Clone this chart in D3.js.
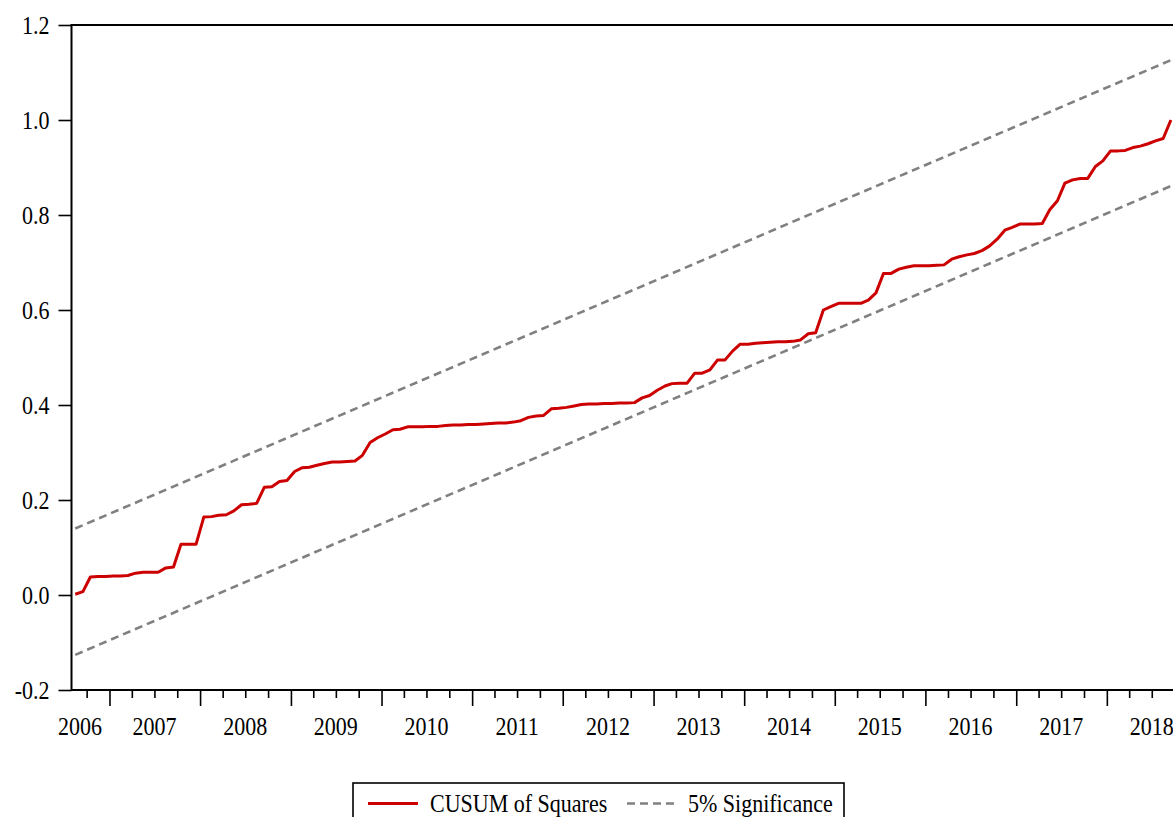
<!DOCTYPE html>
<html>
<head>
<meta charset="utf-8">
<script src="https://cdn.jsdelivr.net/npm/d3@7"></script>
<style>
  html, body { margin: 0; padding: 0; background: #fff; }
  svg { display: block; }
  text { font-family: "Liberation Serif", "Times New Roman", serif; fill: #000; }
</style>
</head>
<body>
<svg id="chart" width="1173" height="817"></svg>
<script>
// ---- data ----
const firstObs = "2006-08";          // first monthly observation
const axisStart = "2006-08-01";
const axisEnd = "2018-10-01";
const cusumSq = [
  0.0015, 0.007, 0.038, 0.039, 0.039, 0.040, 0.040, 0.041, 0.046, 0.048, 0.048, 0.048,
  0.057, 0.059, 0.107, 0.107, 0.107, 0.164, 0.165, 0.168, 0.169, 0.177, 0.190, 0.191,
  0.193, 0.227, 0.228, 0.239, 0.241, 0.260, 0.268, 0.269, 0.273, 0.277, 0.280, 0.280,
  0.281, 0.282, 0.294, 0.321, 0.331, 0.339, 0.348, 0.349, 0.354, 0.354, 0.354, 0.355,
  0.355, 0.357, 0.358, 0.358, 0.359, 0.359, 0.360, 0.361, 0.362, 0.362, 0.364, 0.367,
  0.374, 0.377, 0.378, 0.392, 0.393, 0.395, 0.398, 0.401, 0.402, 0.402, 0.403, 0.403,
  0.404, 0.404, 0.405, 0.415, 0.420, 0.431, 0.440, 0.445, 0.446, 0.446, 0.467, 0.467,
  0.474, 0.495, 0.495, 0.514, 0.528, 0.528, 0.530, 0.531, 0.532, 0.533, 0.533, 0.534,
  0.537, 0.550, 0.552, 0.600, 0.607, 0.614, 0.614, 0.614, 0.614, 0.621, 0.636, 0.677,
  0.677, 0.686, 0.690, 0.693, 0.693, 0.693, 0.694, 0.695, 0.707, 0.712, 0.716, 0.719,
  0.725, 0.735, 0.749, 0.768, 0.774, 0.781, 0.781, 0.781, 0.782, 0.811, 0.830, 0.867,
  0.874, 0.877, 0.877, 0.902, 0.914, 0.935, 0.935, 0.936, 0.942, 0.945, 0.950, 0.956,
  0.961, 1.000
];
const sigUpper = [0.140, 1.126];     // value at first and last observation
const sigLower = [-0.126, 0.861];
const yTicks = [-0.2, 0.0, 0.2, 0.4, 0.6, 0.8, 1.0, 1.2];
const yearLabels = ["2006","2007","2008","2009","2010","2011","2012","2013","2014","2015","2016","2017","2018"];
const legendLabels = ["CUSUM of Squares", "5% Significance"];

(function () {
// ---- layout ----
const svg = d3.select("#chart");
const parseMonth = d3.timeParse("%Y-%m");
const parseDay = d3.timeParse("%Y-%m-%d");
const start = parseMonth(firstObs);
const dates = cusumSq.map((_, i) => d3.timeDay.offset(d3.timeMonth.offset(start, i), 15));
const d0 = parseDay(axisStart), d1 = parseDay(axisEnd);

const mLeft = 71.5, mRight = 1174.6, mTop = 25, mBottom = 690;
const x = d3.scaleTime().domain([d0, d1]).range([mLeft, mRight]);
const y = d3.scaleLinear().domain([-0.2, 1.2]).range([mBottom, mTop]);

// text in the reference is taller than its width suggests: keep width of 22px, height of ~24.6px
function tallText(sel) {
  sel.each(function () {
    const t = d3.select(this);
    t.attr("font-size", 22);
    const w = this.getComputedTextLength();
    t.attr("font-size", 24.6).attr("textLength", w).attr("lengthAdjust", "spacingAndGlyphs");
  });
}

// significance bounds
const sigData = [sigUpper, sigLower].map(a => [
  { d: dates[0], v: a[0] }, { d: dates[dates.length - 1], v: a[1] }
]);
const line = d3.line().x(p => x(p.d)).y(p => y(p.v));
svg.append("g").selectAll("path").data(sigData).join("path")
  .attr("d", line)
  .attr("fill", "none").attr("stroke", "#808080")
  .attr("stroke-width", 2.6).attr("stroke-dasharray", "8,5");

// CUSUM of squares line
svg.append("path")
  .datum(cusumSq.map((v, i) => ({ d: dates[i], v })))
  .attr("d", line)
  .attr("fill", "none").attr("stroke", "#cc0000")
  .attr("stroke-width", 3).attr("stroke-linejoin", "round");

// frame
svg.append("path").attr("d", `M${mLeft},${mTop}H${mRight}V${mBottom}H${mLeft}Z`)
  .attr("stroke", "#000").attr("stroke-width", 2).attr("fill", "none");

// y axis
const yAxis = d3.axisLeft(y).tickValues(yTicks).tickSize(13).tickPadding(9)
  .tickFormat(v => v.toFixed(1));
const gy = svg.append("g").attr("transform", `translate(${mLeft},0)`).call(yAxis);
gy.select(".domain").remove();
gy.selectAll(".tick line").attr("stroke", "#000").attr("stroke-width", 1.6);
gy.selectAll(".tick text").attr("font-family", "Liberation Serif").attr("dy", "0.36em").call(tallText);

// x axis: quarterly minor ticks, yearly major ticks
const quarters = d3.timeMonth.every(3).range(d0, d1).filter(d => d.getMonth() !== 0 && d > d0);
const years = d3.timeYear.range(d0, d1).filter(d => d > d0);
const gxMinor = svg.append("g").attr("transform", `translate(0,${mBottom})`)
  .call(d3.axisBottom(x).tickValues(quarters).tickSize(8).tickFormat(""));
const gxMajor = svg.append("g").attr("transform", `translate(0,${mBottom})`)
  .call(d3.axisBottom(x).tickValues(years).tickSize(16).tickFormat(""));
[gxMinor, gxMajor].forEach(g => {
  g.select(".domain").remove();
  g.selectAll(".tick line").attr("stroke", "#000").attr("stroke-width", 1.6);
});

// year labels (centered in each year, clamped to the axis start)
svg.append("g").selectAll("text").data(yearLabels).join("text")
  .attr("x", s => Math.max(x(new Date(+s, 6, 1)), mLeft + 8.5))
  .attr("y", 735)
  .attr("text-anchor", "middle")
  .text(s => s)
  .call(tallText);

// legend
const lg = svg.append("g");
lg.append("rect").attr("x", 353).attr("y", 783).attr("width", 491).attr("height", 60)
  .attr("fill", "#fff").attr("stroke", "#000").attr("stroke-width", 1.6);
lg.append("line").attr("x1", 368).attr("x2", 418).attr("y1", 803.5).attr("y2", 803.5)
  .attr("stroke", "#cc0000").attr("stroke-width", 3);
lg.append("text").attr("x", 430).attr("y", 812).text(legendLabels[0]).call(tallText);
lg.append("line").attr("x1", 627).attr("x2", 677).attr("y1", 803.5).attr("y2", 803.5)
  .attr("stroke", "#808080").attr("stroke-width", 2.6).attr("stroke-dasharray", "8,5");
lg.append("text").attr("x", 688).attr("y", 812).text(legendLabels[1]).call(tallText);
})();
</script>
</body>
</html>
